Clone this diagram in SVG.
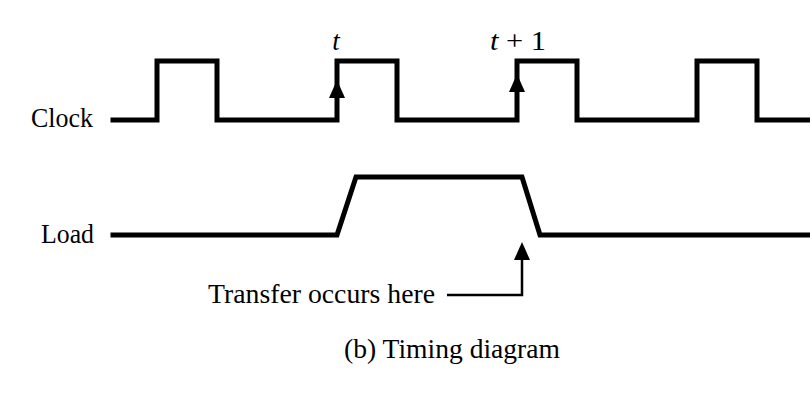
<svg xmlns="http://www.w3.org/2000/svg" width="810" height="402" viewBox="0 0 810 402">
<defs>
<style>
.sig{fill:none;stroke:#000;stroke-width:5;stroke-linejoin:miter;stroke-linecap:square}
.lead{fill:none;stroke:#000;stroke-width:2.5}
.lbl{font-family:"Liberation Serif","Times New Roman",serif;font-size:27px;fill:#000}
.it{font-style:italic}
</style>
</defs>
<rect width="810" height="402" fill="#fff"/>
<g id="clock">
<text class="lbl" x="31" y="127" textLength="62" lengthAdjust="spacingAndGlyphs">Clock</text>
<path class="sig" d="M113,120 H157 V61 H217 V120 H337 V61 H397 V120 H517 V61 H577 V120 H697 V61 H757 V120 H812"/>
</g>
<g id="load">
<text class="lbl" x="41" y="243" textLength="53" lengthAdjust="spacingAndGlyphs">Load</text>
<path class="sig" d="M113,235 H337 L356,177 H522 L540,235 H812"/>
</g>
<g id="labels">
<text class="lbl it" x="336" y="50" text-anchor="middle">t</text>
<text class="lbl" x="490" y="50" textLength="56" lengthAdjust="spacingAndGlyphs"><tspan class="it">t</tspan> + 1</text>
<text class="lbl" x="208" y="303" textLength="227" lengthAdjust="spacingAndGlyphs">Transfer occurs here</text>
<text class="lbl" x="344" y="358" textLength="216" lengthAdjust="spacingAndGlyphs">(b) Timing diagram</text>
</g>
<g id="connectors">
<path d="M329,98 L337,80 L345,98 Z" fill="#000"/>
<path d="M509,92 L517,74 L525,92 Z" fill="#000"/>
<path class="lead" d="M447,295 H522 V255"/>
<path d="M514,260 L522,242 L530,260 Z" fill="#000"/>
</g>
</svg>
